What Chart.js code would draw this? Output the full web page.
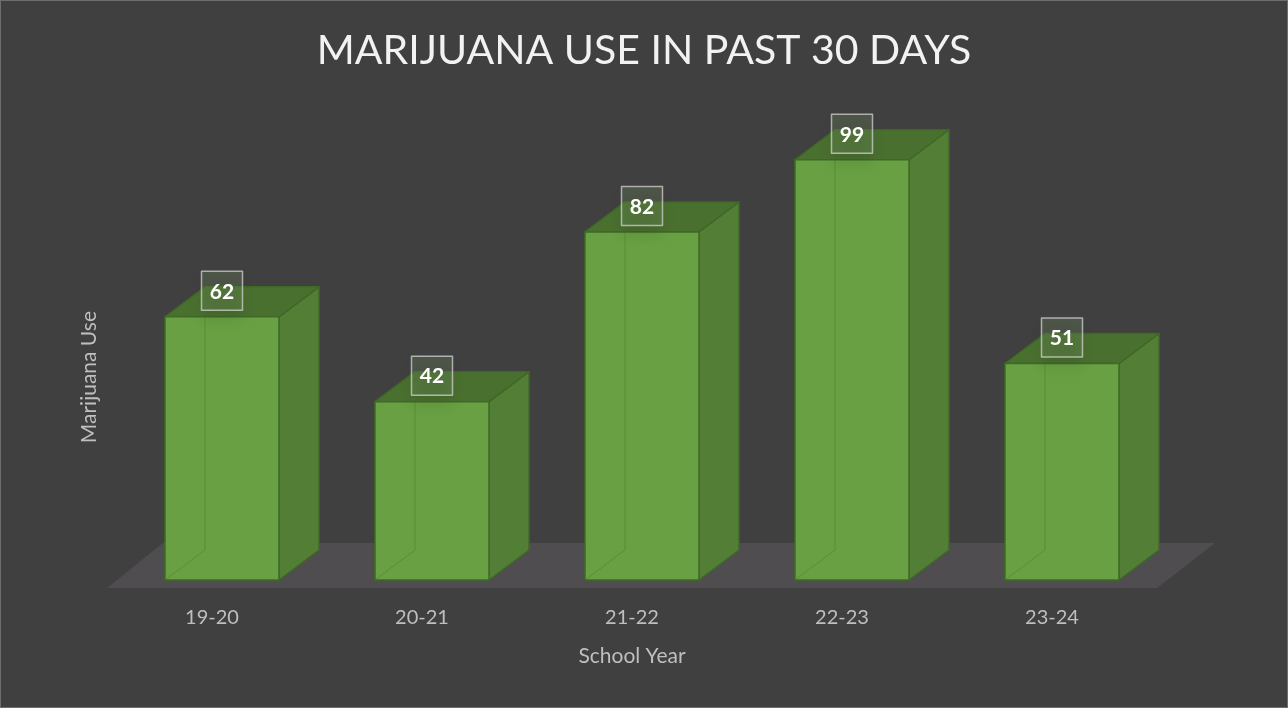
<!DOCTYPE html>
<html>
<head>
<meta charset="utf-8">
<script src="https://cdn.jsdelivr.net/npm/chart.js@4.4.1/dist/chart.umd.min.js"></script>
<style>
  html, body { margin: 0; padding: 0; background: #404040; }
  #wrap { width: 1288px; height: 708px; }
</style>
</head>
<body>
<div id="wrap"><canvas id="useChart" width="1288" height="708"></canvas></div>
<script>
// Data
const schoolYears = ['19-20', '20-21', '21-22', '22-23', '23-24'];
const marijuanaUse = [62, 42, 82, 99, 51];

// Colours
const frontColor = '#68a043';
const sideColor = '#527e36';
const topColor = '#4a7030';
const edgeColor = '#3e6a25';
const floorColor = '#4f4d50';

// Background + frame
const backgroundPlugin = {
    id: 'background',
    beforeDraw(chart) {
        const ctx = chart.ctx;
        ctx.save();
        ctx.fillStyle = '#404040';
        ctx.fillRect(0, 0, chart.width, chart.height);
        ctx.strokeStyle = '#6e6e6e';
        ctx.lineWidth = 1;
        ctx.strokeRect(0.5, 0.5, chart.width - 1, chart.height - 1);
        ctx.restore();
    }
};

// 3D boxes, floor and value labels
const boxPlugin = {
    id: 'box3d',
    beforeDatasetsDraw(chart) {
        const ctx = chart.ctx;
        const area = chart.chartArea;
        const base = chart.scales.y.getPixelForValue(0);
        const dx = 40, dy = 30;   // bar depth
        const shift = 10;         // bars stand a bit back on the floor

        ctx.save();
        // floor
        ctx.fillStyle = floorColor;
        ctx.beginPath();
        ctx.moveTo(area.left, base + 8);
        ctx.lineTo(area.right, base + 8);
        ctx.lineTo(area.right + 58, base - 37);
        ctx.lineTo(area.left + 56, base - 37);
        ctx.closePath();
        ctx.fill();

        const meta = chart.getDatasetMeta(0);
        meta.data.forEach((el, i) => {
            const cx = el.x + shift;
            const half = el.width / 2;
            const l = cx - half, r = cx + half;
            const top = el.y, bot = el.base;

            ctx.lineJoin = 'round';
            ctx.lineWidth = 1.5;
            ctx.strokeStyle = edgeColor;

            // side
            ctx.fillStyle = sideColor;
            ctx.beginPath();
            ctx.moveTo(r, bot);
            ctx.lineTo(r, top);
            ctx.lineTo(r + dx, top - dy);
            ctx.lineTo(r + dx, bot - dy);
            ctx.closePath();
            ctx.fill();
            ctx.stroke();

            // top
            ctx.fillStyle = topColor;
            ctx.beginPath();
            ctx.moveTo(l, top);
            ctx.lineTo(r, top);
            ctx.lineTo(r + dx, top - dy);
            ctx.lineTo(l + dx, top - dy);
            ctx.closePath();
            ctx.fill();
            ctx.stroke();

            // front
            ctx.fillStyle = frontColor;
            ctx.fillRect(l, top, r - l, bot - top);
            ctx.strokeRect(l, top, r - l, bot - top);

            // hidden edges showing faintly through the front
            ctx.strokeStyle = 'rgba(62,106,37,0.35)';
            ctx.lineWidth = 1;
            ctx.beginPath();
            ctx.moveTo(l + dx, top);
            ctx.lineTo(l + dx, bot - dy);
            ctx.lineTo(l, bot);
            ctx.stroke();

            // value label box
            const bw = 41, bh = 39;
            const by = top - 26;
            ctx.save();
            ctx.shadowColor = 'rgba(0,0,0,0.35)';
            ctx.shadowBlur = 14;
            ctx.shadowOffsetY = 10;
            ctx.fillStyle = 'rgba(120,150,100,0.25)';
            ctx.fillRect(cx - bw / 2, by - bh / 2, bw, bh);
            ctx.restore();
            ctx.strokeStyle = 'rgba(210,210,210,0.75)';
            ctx.lineWidth = 1.5;
            ctx.strokeRect(cx - bw / 2, by - bh / 2, bw, bh);

            ctx.fillStyle = '#ffffff';
            ctx.font = 'bold 21px Lato';
            ctx.textAlign = 'center';
            ctx.textBaseline = 'middle';
            ctx.fillText(String(marijuanaUse[i]), cx, by + 1);
        });
        ctx.restore();
        return false;
    }
};

const useChart = new Chart(document.getElementById('useChart').getContext('2d'), {
    type: 'bar',
    data: {
        labels: schoolYears,
        datasets: [{
            label: 'Marijuana Use',
            data: marijuanaUse,
            backgroundColor: frontColor,
            barPercentage: 0.543,
            categoryPercentage: 1
        }]
    },
    options: {
        responsive: false,
        animation: false,
        layout: {
            padding: 0
        },
        plugins: {
            legend: { display: false },
            tooltip: { enabled: false },
            title: {
                display: true,
                text: 'MARIJUANA USE IN PAST 30 DAYS',
                color: '#f2f2f2',
                font: { family: 'Lato', size: 41, weight: 'normal' },
                padding: { top: 26, bottom: 99 }
            }
        },
        scales: {
            x: {
                grid: { display: false, drawTicks: false },
                border: { display: false },
                ticks: {
                    color: '#bfbfbf',
                    font: { family: 'Lato', size: 20 },
                    padding: 26
                },
                title: {
                    display: true,
                    text: 'School Year',
                    color: '#bfbfbf',
                    font: { family: 'Lato', size: 21 },
                    padding: { top: 0, bottom: 39 }
                },
                afterFit(scale) {
                    scale.height = 128;
                }
            },
            y: {
                min: 0,
                max: 95.6,
                grid: { display: false, drawTicks: false },
                border: { display: false },
                ticks: { display: false },
                title: {
                    display: true,
                    text: 'Marijuana Use',
                    color: '#bfbfbf',
                    font: { family: 'Lato', size: 21 },
                    padding: { top: 77, bottom: 0 }
                },
                afterFit(scale) {
                    scale.width = 107;
                }
            },
            // empty right axis, only reserves the space right of the floor
            yRight: {
                axis: 'y',
                position: 'right',
                min: 0,
                max: 95.6,
                grid: { display: false, drawTicks: false },
                border: { display: false },
                ticks: { display: false },
                afterFit(scale) {
                    scale.width = 131;
                }
            }
        }
    },
    plugins: [backgroundPlugin, boxPlugin]
});
</script>
</body>
</html>
